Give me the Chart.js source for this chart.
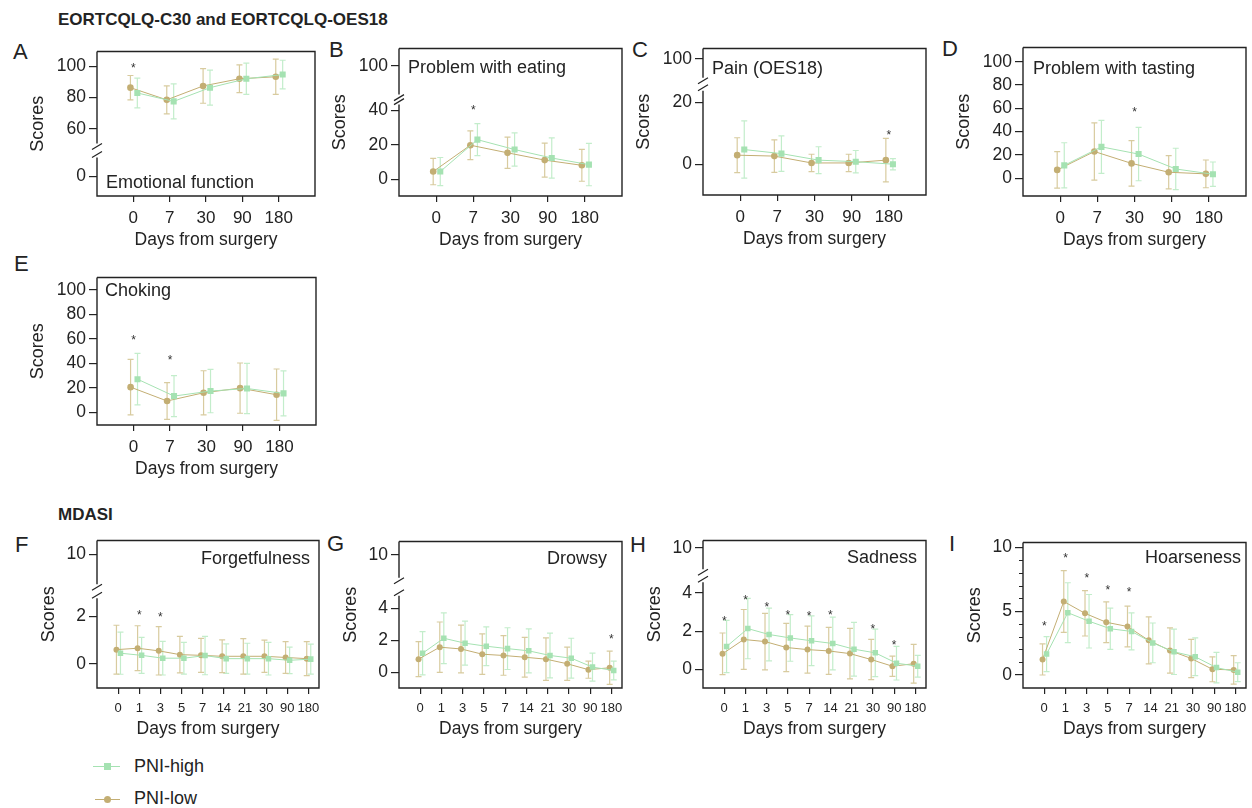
<!DOCTYPE html>
<html>
<head>
<meta charset="utf-8">
<script src="https://cdn.jsdelivr.net/npm/chart.js@4.4.1/dist/chart.umd.min.js"></script>
<style>
  body { margin: 0; background: #fff; width: 1252px; height: 808px; position: relative; overflow: hidden;
         font-family: "Liberation Sans", Arial, sans-serif; color: #232323; }
  canvas { position: absolute; }
  .sec { position: absolute; font-weight: bold; font-size: 17px; line-height: 1; white-space: nowrap; }
  .let { position: absolute; font-size: 22px; line-height: 1; }
  .leg { position: absolute; font-size: 18px; line-height: 1; white-space: nowrap; }
  .ln { position: absolute; height: 1px; }
  .mk { position: absolute; }
</style>
</head>
<body>
<div class="sec" style="left:58px;top:11px">EORTCQLQ-C30 and EORTCQLQ-OES18</div>
<div class="sec" style="left:58px;top:506px">MDASI</div>

<div class="let" style="left:13px;top:41px">A</div>
<div class="let" style="left:329px;top:39px">B</div>
<div class="let" style="left:632px;top:39px">C</div>
<div class="let" style="left:942px;top:38px">D</div>
<div class="let" style="left:14px;top:253px">E</div>
<div class="let" style="left:15px;top:534px">F</div>
<div class="let" style="left:327px;top:533px">G</div>
<div class="let" style="left:630px;top:534px">H</div>
<div class="let" style="left:949px;top:533px">I</div>

<div class="ln" style="left:93px;top:766px;width:27px;background:#a5e2b2"></div>
<div class="mk" style="left:104px;top:763px;width:7px;height:7px;background:#a5e2b2"></div>
<div class="leg" style="left:134px;top:757px">PNI-high</div>
<div class="ln" style="left:95px;top:799px;width:25px;background:#c3ae73"></div>
<div class="mk" style="left:104px;top:796px;width:7px;height:7px;border-radius:50%;background:#c3ae73"></div>
<div class="leg" style="left:134px;top:789px">PNI-low</div>

<script>
// ---------- DATA ----------
const daysShort = ["0", "7", "30", "90", "180"];
const daysLong = ["0", "1", "3", "5", "7", "14", "21", "30", "90", "180"];

// A  Emotional function
const emoLow = [86.3, 78.5, 87.4, 92.0, 93.3];
const emoLowSd = [7.8, 9.0, 11.1, 8.9, 11.3];
const emoHigh = [82.9, 77.5, 86.3, 92.0, 94.7];
const emoHighSd = [9.5, 11.2, 11.2, 10.0, 9.2];
const emoStars = [{ at: 0, y: 101 }];

// B  Problem with eating
const eatLow = [4.6, 19.8, 15.4, 11.2, 8.2];
const eatLowSd = [7.6, 8.3, 9.0, 9.8, 9.2];
const eatHigh = [4.6, 23.0, 17.3, 12.4, 8.6];
const eatHighSd = [8.1, 9.2, 9.6, 11.6, 12.2];
const eatStars = [{ at: 1, y: 42 }];

// C  Pain (OES18)
const painLow = [3.0, 2.7, 0.5, 0.5, 1.4];
const painLowSd = [5.6, 5.2, 2.8, 2.8, 7.0];
const painHigh = [4.8, 3.5, 1.4, 0.9, 0.1];
const painHighSd = [9.2, 5.7, 4.3, 3.6, 1.8];
const painStars = [{ at: 4, y: 10.4 }];

// D  Problem with tasting
const tasteLow = [7.1, 22.9, 12.7, 5.1, 3.7];
const tasteLowSd = [15.7, 24.6, 19.5, 14.3, 11.9];
const tasteHigh = [11.0, 26.9, 20.7, 7.9, 3.4];
const tasteHighSd = [19.4, 22.7, 22.9, 17.8, 10.5];
const tasteStars = [{ at: 2, y: 59.8 }];

// E  Choking
const chokeLow = [20.7, 9.4, 16.1, 19.9, 14.5];
const chokeLowSd = [22.7, 15.0, 18.0, 20.5, 21.0];
const chokeHigh = [27.2, 13.4, 17.5, 19.6, 15.6];
const chokeHighSd = [21.0, 16.7, 17.7, 20.5, 18.3];
const chokeStars = [{ at: 0, y: 61.6 }, { at: 1, y: 45.7 }];

// F  Forgetfulness
const forgLow = [0.60, 0.66, 0.55, 0.39, 0.36, 0.32, 0.32, 0.32, 0.27, 0.22];
const forgLowSd = [1.03, 0.95, 1.02, 0.77, 0.72, 0.69, 0.75, 0.68, 0.67, 0.72];
const forgHigh = [0.45, 0.36, 0.24, 0.24, 0.35, 0.22, 0.22, 0.22, 0.15, 0.20];
const forgHighSd = [0.89, 0.76, 0.71, 0.67, 0.81, 0.62, 0.65, 0.69, 0.56, 0.63];
const forgStars = [{ at: 1, y: 2.2 }, { at: 2, y: 2.1 }];

// G  Drowsy
const drowLow = [0.83, 1.58, 1.47, 1.14, 1.06, 0.95, 0.83, 0.54, 0.17, 0.29];
const drowLowSd = [1.10, 1.58, 1.50, 1.27, 1.24, 1.25, 1.33, 1.04, 0.54, 1.04];
const drowHigh = [1.20, 2.14, 1.83, 1.64, 1.49, 1.35, 1.06, 0.89, 0.33, 0.12];
const drowHighSd = [1.36, 1.59, 1.38, 1.22, 1.31, 1.38, 1.40, 1.25, 0.88, 0.59];
const drowStars = [{ at: 9, y: 2.26 }];

// H  Sadness
const sadLow = [0.82, 1.57, 1.46, 1.15, 1.04, 0.97, 0.83, 0.52, 0.17, 0.30];
const sadLowSd = [1.09, 1.57, 1.48, 1.26, 1.23, 1.23, 1.32, 1.05, 0.53, 1.01];
const sadHigh = [1.20, 2.14, 1.83, 1.65, 1.50, 1.36, 1.06, 0.87, 0.33, 0.17];
const sadHighSd = [1.37, 1.58, 1.38, 1.22, 1.30, 1.38, 1.41, 1.24, 0.88, 0.57];
const sadStars = [{ at: 0, y: 2.7 }, { at: 1, y: 3.81 }, { at: 2, y: 3.43 }, { at: 3, y: 2.99 },
                  { at: 4, y: 2.96 }, { at: 5, y: 3.03 }, { at: 7, y: 2.26 }, { at: 8, y: 1.46 }];

// I  Hoarseness
const hoarLow = [1.21, 5.76, 4.83, 4.13, 3.80, 2.71, 1.91, 1.29, 0.44, 0.39];
const hoarLowSd = [1.22, 2.43, 1.78, 1.60, 1.60, 1.85, 1.78, 1.50, 0.98, 1.12];
const hoarHigh = [1.63, 4.88, 4.21, 3.62, 3.41, 2.51, 1.81, 1.42, 0.57, 0.21];
const hoarHighSd = [1.38, 2.35, 2.10, 1.62, 1.45, 1.56, 1.78, 1.48, 1.19, 0.74];
const hoarStars = [{ at: 0, y: 4.06 }, { at: 1, y: 9.43 }, { at: 2, y: 7.83 }, { at: 3, y: 6.9 }, { at: 4, y: 6.72 }];

// ---------- STYLE ----------
const FONT = '"Liberation Sans", Arial, sans-serif';
const INK = "#232323";
const TAN = "#c3ae73", TAN_ERR = "#d8cb9f";
const GREEN = "#a5e2b2", GREEN_ERR = "#c3edcb";
Chart.defaults.font.family = FONT;
Chart.defaults.color = INK;

// linear scale with an optional gap in the middle (axis break)
class BrokenScale extends Chart.LinearScale {
  getPixelForValue(v) {
    const b = this.options.brk;
    if (!b || !b.gap) return super.getPixelForValue(v);
    const units = (this.max - b.hi) + (b.lo - this.min);
    const ppu = (this.bottom - this.top - b.gap) / units;
    if (v >= b.hi) return this.top + (this.max - v) * ppu;
    if (v <= b.lo) return this.bottom - (v - this.min) * ppu;
    return this.top + (this.max - b.hi) * ppu + b.gap / 2;
  }
}
BrokenScale.id = "broken";
BrokenScale.defaults = Chart.LinearScale.defaults;
Chart.register(BrokenScale);

// ---------- PANELS ----------
const panels = [
  { box: [97, 50, 315, 196], cats: daysShort, yMin: -12.7, yMax: 109.5, brk: { lo: 12, hi: 50.5, gap: 14 },
    yTicks: [0, 60, 80, 100], low: emoLow, lowSd: emoLowSd, high: emoHigh, highSd: emoHighSd, stars: emoStars,
    text: "Emotional function", at: "bl", dx: 9, dy: 8 },
  { box: [399, 47, 622, 196], cats: daysShort, yMin: -9.5, yMax: 110, brk: { lo: 43.2, hi: 83.4, gap: 10 },
    yTicks: [0, 20, 40, 100], low: eatLow, lowSd: eatLowSd, high: eatHigh, highSd: eatHighSd, stars: eatStars,
    text: "Problem with eating", at: "tl", dx: 9, dy: 24 },
  { box: [703, 47, 926, 195], cats: daysShort, yMin: -9.8, yMax: 103.3, brk: { lo: 23.7, hi: 93.9, gap: 13 },
    yTicks: [0, 20, 100], low: painLow, lowSd: painLowSd, high: painHigh, highSd: painHighSd, stars: painStars,
    text: "Pain (OES18)", at: "tl", dx: 9, dy: 25 },
  { box: [1023, 46, 1246, 196], cats: daysShort, yMin: -15.3, yMax: 112.2, brk: null,
    yTicks: [0, 20, 40, 60, 80, 100], low: tasteLow, lowSd: tasteLowSd, high: tasteHigh, highSd: tasteHighSd, stars: tasteStars,
    text: "Problem with tasting", at: "tl", dx: 10, dy: 26 },
  { box: [97, 276, 316, 425], cats: daysShort, yMin: -10.2, yMax: 110.2, brk: null,
    yTicks: [0, 20, 40, 60, 80, 100], low: chokeLow, lowSd: chokeLowSd, high: chokeHigh, highSd: chokeHighSd, stars: chokeStars,
    text: "Choking", at: "tl", dx: 8, dy: 18 },
  { box: [97, 539, 319, 688], cats: daysLong, yMin: -1.02, yMax: 10.59, brk: { lo: 2.77, hi: 8.74, gap: 14 },
    yTicks: [0, 2, 10], low: forgLow, lowSd: forgLowSd, high: forgHigh, highSd: forgHighSd, stars: forgStars,
    text: "Forgetfulness", at: "tr", dx: 9, dy: 23 },
  { box: [399, 540, 622, 688], cats: daysLong, yMin: -0.98, yMax: 10.83, brk: { lo: 4.8, hi: 8.55, gap: 18 },
    yTicks: [0, 2, 4, 10], low: drowLow, lowSd: drowLowSd, high: drowHigh, highSd: drowHighSd, stars: drowStars,
    text: "Drowsy", at: "tr", dx: 15, dy: 22 },
  { box: [703, 539, 926, 688], cats: daysLong, yMin: -0.97, yMax: 10.38, brk: { lo: 4.56, hi: 8.87, gap: 13 },
    yTicks: [0, 2, 4, 10], low: sadLow, lowSd: sadLowSd, high: sadHigh, highSd: sadHighSd, stars: sadStars,
    text: "Sadness", at: "tr", dx: 9, dy: 22 },
  { box: [1023, 541, 1246, 688], cats: daysLong, yMin: -1.03, yMax: 10.39, brk: null, minor: [1, 2, 3, 4, 6, 7, 8, 9],
    yTicks: [0, 5, 10], low: hoarLow, lowSd: hoarLowSd, high: hoarHigh, highSd: hoarHighSd, stars: hoarStars,
    text: "Hoarseness", at: "tr", dx: 5, dy: 20 }
];

// error bars drawn under the points
const errorBars = {
  id: "errorBars",
  beforeDatasetsDraw(chart) {
    const { ctx } = chart;
    const xs = chart.scales.x, ys = chart.scales.y;
    chart.data.datasets.forEach(ds => {
      ctx.save();
      ctx.strokeStyle = ds.errColor;
      ctx.lineWidth = 1.2;
      ds.data.forEach((p, i) => {
        const px = xs.getPixelForValue(p.x);
        const t = ys.getPixelForValue(p.y + ds.sd[i]);
        const b = ys.getPixelForValue(p.y - ds.sd[i]);
        ctx.beginPath();
        ctx.moveTo(px, t); ctx.lineTo(px, b);
        ctx.moveTo(px - 3, t); ctx.lineTo(px + 3, t);
        ctx.moveTo(px - 3, b); ctx.lineTo(px + 3, b);
        ctx.stroke();
      });
      ctx.restore();
    });
  }
};

function framePlugin(p) {
  return {
    id: "frame",
    afterDraw(chart) {
      const { ctx, chartArea: a } = chart;
      const xs = chart.scales.x, ys = chart.scales.y;
      ctx.save();
      ctx.strokeStyle = INK;
      ctx.lineWidth = 1.4;
      ctx.beginPath();
      ctx.moveTo(a.left, a.top); ctx.lineTo(a.right, a.top);
      ctx.lineTo(a.right, a.bottom); ctx.lineTo(a.left, a.bottom);
      if (p.brk) {
        const yHi = ys.getPixelForValue(p.brk.hi), yLo = ys.getPixelForValue(p.brk.lo);
        ctx.lineTo(a.left, yLo);
        ctx.moveTo(a.left, yHi); ctx.lineTo(a.left, a.top);
        ctx.stroke();
        ctx.lineWidth = 1.2;
        ctx.beginPath();
        [yHi + 3, yLo - 3].forEach(y => {
          ctx.moveTo(a.left - 5, y + 3); ctx.lineTo(a.left + 5, y - 3);
        });
      } else {
        ctx.lineTo(a.left, a.top);
      }
      ctx.stroke();

      // minor ticks
      if (p.minor) {
        ctx.lineWidth = 1;
        ctx.beginPath();
        p.minor.forEach(v => {
          const y = Math.round(ys.getPixelForValue(v)) + 0.5;
          ctx.moveTo(a.left - 4, y); ctx.lineTo(a.left, y);
        });
        ctx.stroke();
      }

      // panel label
      ctx.fillStyle = INK;
      ctx.font = "18px " + FONT;
      ctx.textBaseline = "alphabetic";
      if (p.at === "tr") {
        ctx.textAlign = "right";
        ctx.fillText(p.text, a.right - p.dx, a.top + p.dy);
      } else {
        ctx.textAlign = "left";
        ctx.fillText(p.text, a.left + p.dx, p.at === "bl" ? a.bottom - p.dy : a.top + p.dy);
      }

      // significance marks
      ctx.font = "12px " + FONT;
      ctx.textAlign = "center";
      ctx.fillStyle = "#333";
      p.stars.forEach(s => {
        ctx.fillText("*", xs.getPixelForValue(s.at), ys.getPixelForValue(s.y) + 7);
      });
      ctx.restore();
    }
  };
}

function makePanel(p) {
  const long = p.cats.length > 5;
  const wY = 75, hX = 60, padT = 12, padR = 12;
  const [l, t, r, b] = p.box;
  const w = r - l + wY + padR, h = b - t + padT + hX;
  const c = document.createElement("canvas");
  c.width = w; c.height = h;
  c.style.left = (l - wY) + "px";
  c.style.top = (t - padT) + "px";
  c.style.width = w + "px";
  c.style.height = h + "px";
  document.body.appendChild(c);

  const offLow = -0.08, offHigh = 0.11;
  new Chart(c, {
    type: "line",
    data: {
      datasets: [
        { label: "PNI-high", data: p.high.map((v, i) => ({ x: i + offHigh, y: v })), sd: p.highSd, errColor: GREEN_ERR,
          borderColor: GREEN, backgroundColor: GREEN, borderWidth: 1, pointStyle: "rect",
          pointRadius: long ? 3.9 : 4.3, pointBorderWidth: 0 },
        { label: "PNI-low", data: p.low.map((v, i) => ({ x: i + offLow, y: v })), sd: p.lowSd, errColor: TAN_ERR,
          borderColor: TAN, backgroundColor: TAN, borderWidth: 1, pointStyle: "circle",
          pointRadius: long ? 3 : 3.3, pointBorderWidth: 0 }
      ]
    },
    options: {
      responsive: false,
      animation: false,
      devicePixelRatio: 1,
      events: [],
      layout: { padding: { top: padT, right: padR, left: 0, bottom: 0 } },
      plugins: { legend: { display: false }, tooltip: { enabled: false } },
      scales: {
        x: {
          type: "linear", min: -1, max: long ? 9.5 : 5, bounds: "data",
          afterBuildTicks: s => { s.ticks = p.cats.map((_, i) => ({ value: i })); },
          afterFit: s => { s.height = hX; },
          ticks: { callback: v => p.cats[v], font: { size: long ? 13 : 17 }, color: INK,
                   padding: long ? 7 : 6, maxRotation: 0, autoSkip: false },
          grid: { drawOnChartArea: false, tickLength: 6, color: INK, lineWidth: 1.2 },
          border: { display: false },
          title: { display: true, text: "Days from surgery", font: { size: 17.5 }, color: INK,
                   padding: { top: 0, bottom: long ? 8 : 5.5 } }
        },
        y: {
          type: "broken", min: p.yMin, max: p.yMax, bounds: "data", brk: p.brk,
          afterBuildTicks: s => { s.ticks = p.yTicks.map(v => ({ value: v })); },
          afterFit: s => { s.width = wY; },
          ticks: { font: { size: 17.5 }, color: INK, padding: 3 },
          grid: { drawOnChartArea: false, tickLength: 8, color: INK, lineWidth: 1.2 },
          border: { display: false },
          title: { display: true, text: "Scores", font: { size: 18 }, color: INK,
                   padding: { top: long ? 16 : 5, bottom: 0 } }
        }
      }
    },
    plugins: [errorBars, framePlugin(p)]
  });
}

panels.forEach(makePanel);
</script>
</body>
</html>
